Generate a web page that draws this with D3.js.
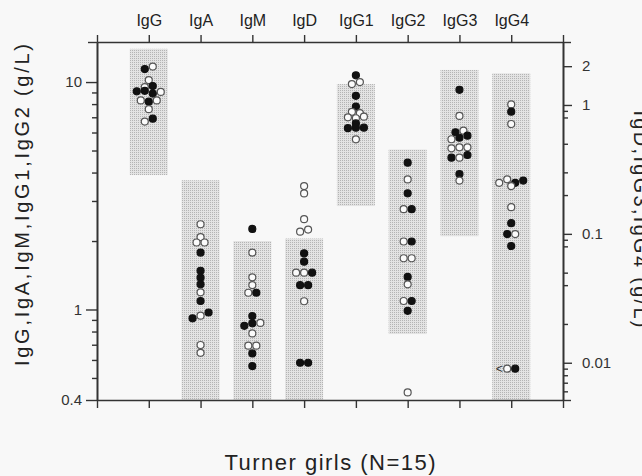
<html>
<head>
<script src="https://cdn.jsdelivr.net/npm/d3@7"></script>
<style>
  body { margin: 0; background: #f8f8f8; }
  text { font-family: "Liberation Sans", Arial, sans-serif; }
</style>
</head>
<body>
<script>
var categories = ["IgG", "IgA", "IgM", "IgD", "IgG1", "IgG2", "IgG3", "IgG4"];
// which y axis each class is read on
var scaleSide = ["L", "L", "L", "R", "L", "L", "R", "R"];
// shaded reference ranges (null = runs off the bottom of the axis)
var refLow = [3.9, null, null, null, 2.85, 0.78, 0.096, null];
var refHigh = [14, 3.7, 2.0, 0.092, 9.8, 5.05, 1.87, 1.76];

// [value g/L, filled (1) / open (0), below detection limit]
var igG = [[11.4, 1], [11.7, 0], [10.2, 0], [9.5, 0], [9.6, 1], [9.1, 1], [9.15, 1], [8.9, 1], [9.05, 0],
           [8.3, 0], [8.2, 1], [8.3, 0], [7.6, 0], [6.7, 0], [6.9, 1]];
var igA = [[2.37, 0], [2.08, 0], [1.97, 0], [1.97, 0], [1.78, 1], [1.48, 1], [1.38, 1], [1.29, 1], [1.19, 0],
           [1.09, 1], [0.914, 1], [0.939, 0], [0.97, 1], [0.698, 0], [0.645, 0]];
var igM = [[2.26, 1], [1.78, 0], [1.385, 0], [1.28, 0], [1.185, 0], [1.185, 1], [0.936, 1], [0.848, 1], [0.869, 1],
           [0.873, 0], [0.785, 0], [0.693, 0], [0.693, 0], [0.641, 1], [0.564, 1]];
var igD = [[0.235, 0], [0.206, 0], [0.130, 0], [0.104, 0], [0.108, 0], [0.0706, 1], [0.0608, 1], [0.050, 0], [0.050, 0],
           [0.050, 1], [0.040, 1], [0.040, 1], [0.030, 0], [0.010, 1], [0.010, 1]];
var igG1 = [[10.7, 1], [9.8, 0], [10.0, 0], [8.7, 1], [7.8, 1], [7.4, 0], [7.3, 0], [7.0, 0], [6.93, 0], [7.04, 0],
            [6.58, 1], [6.27, 1], [6.3, 1], [6.3, 1], [5.6, 0]];
var igG2 = [[4.42, 1], [3.73, 0], [3.24, 1], [2.76, 0], [2.76, 1], [1.99, 0], [1.99, 1], [1.68, 0], [1.68, 0],
            [1.39, 1], [1.29, 0], [1.09, 0], [1.09, 1], [0.987, 1], [0.432, 0]];
var igG3 = [[1.31, 1], [0.822, 0], [0.614, 1], [0.632, 0], [0.542, 0], [0.557, 1], [0.578, 1], [0.461, 0], [0.469, 0],
            [0.469, 0], [0.39, 1], [0.39, 0], [0.409, 1], [0.291, 1], [0.259, 0]];
var igG4 = [[1.01, 0], [0.887, 1], [0.712, 0], [0.249, 0], [0.265, 0], [0.249, 1], [0.259, 1], [0.235, 0], [0.161, 0],
            [0.121, 1], [0.0997, 1], [0.0997, 0], [0.0805, 1], [0.009, 0, 1], [0.009, 1]];
var points = [igG, igA, igM, igD, igG1, igG2, igG3, igG4];

var leftMajor = [0.4, 1, 10];
var leftMinor = [0.5, 0.6, 0.7, 0.8, 0.9, 2, 3, 4, 5, 6, 7, 8, 9];
var rightMajor = [0.01, 0.1, 1, 2];
var rightMinor = [0.006, 0.007, 0.008, 0.009, 0.02, 0.04, 0.05, 0.08, 0.09, 0.2, 0.3, 0.5, 0.8, 0.9];

var width = 642, height = 476;
var plotL = 97, plotR = 563, plotT = 42, plotB = 400;

var svg = d3.select('body').append('svg')
    .attr('width', width)
    .attr('height', height);

svg.append('rect').attr('width', width).attr('height', height).attr('fill', '#f8f8f8');

var pat = svg.append('defs').append('pattern')
    .attr('id', 'stip')
    .attr('width', 2).attr('height', 2)
    .attr('patternUnits', 'userSpaceOnUse');
pat.append('rect').attr('width', 2).attr('height', 2).attr('fill', '#e3e3e3');
pat.append('rect').attr('width', 1).attr('height', 1).attr('fill', '#b4b4b4');

var x = d3.scaleLinear().domain([0, 9]).range([plotL, plotR]);
var yL = d3.scaleLog().domain([15, 0.4]).range([plotT, plotB]);
var yR = d3.scaleLog().domain([3.08, 0.00514]).range([plotT, plotB]);

function yFor(i) { return scaleSide[i] == "L" ? yL : yR; }

// reference range boxes
svg.append('g').selectAll('rect')
    .data(categories)
    .enter()
    .append('rect')
    .attr('x', function (d, i) { return x(i + 1) - 19; })
    .attr('width', 38)
    .attr('y', function (d, i) { return yFor(i)(refHigh[i]); })
    .attr('height', function (d, i) {
        var y = yFor(i);
        var lo = refLow[i] == null ? plotB : y(refLow[i]);
        return lo - y(refHigh[i]);
    })
    .attr('fill', 'url(#stip)');

// put points with nearly the same value side by side
function layout(list, y, cx) {
    var rows = [], cur = null, prevY = null;
    list.forEach(function (d) {
        var p = { v: d[0], f: d[1], lt: d[2], y: y(d[0]) };
        if (cur && Math.abs(p.y - prevY) < 3.5) cur.push(p);
        else { cur = [p]; rows.push(cur); }
        prevY = p.y;
    });
    var out = [];
    rows.forEach(function (row) {
        row.forEach(function (p, k) {
            p.x = cx + (k - (row.length - 1) / 2) * 8;
            out.push(p);
        });
    });
    return out;
}

var all = [];
points.forEach(function (list, i) {
    all = all.concat(layout(list, yFor(i), x(i + 1)));
});

var dots = svg.append('g');
dots.selectAll('circle')
    .data(all)
    .enter()
    .append('circle')
    .attr('cx', function (d) { return d.x; })
    .attr('cy', function (d) { return d.y; })
    .attr('r', 3.5)
    .attr('fill', function (d) { return d.f ? '#111' : '#fbfbfb'; })
    .attr('stroke', function (d) { return d.f ? '#111' : '#555'; })
    .attr('stroke-width', 1.2);

dots.selectAll('text')
    .data(all.filter(function (d) { return d.lt; }))
    .enter()
    .append('text')
    .attr('x', function (d) { return d.x - 4.5; })
    .attr('y', function (d) { return d.y + 4; })
    .attr('text-anchor', 'end')
    .attr('font-size', 12)
    .attr('fill', '#333')
    .text('<');

// axes
function style(g) {
    g.attr('color', '#333');
    g.selectAll('path, line').attr('stroke-width', 1.4);
    g.selectAll('text').attr('fill', '#333');
}

svg.append('g')
    .attr('transform', 'translate(0,' + plotT + ')')
    .call(d3.axisTop(x).tickValues(d3.range(10)).tickSize(7).tickSizeOuter(0).tickPadding(9)
        .tickFormat(function (i) { return categories[i - 1] || ''; }))
    .call(style)
    .selectAll('text').attr('font-size', 16).attr('fill', '#222');

svg.append('g')
    .attr('transform', 'translate(0,' + plotB + ')')
    .call(d3.axisBottom(x).tickValues(d3.range(10)).tickSize(8).tickSizeOuter(0).tickFormat(''))
    .call(style);

svg.append('g')
    .attr('transform', 'translate(' + plotL + ',0)')
    .call(d3.axisLeft(yL).tickValues(leftMajor).tickSize(11).tickSizeOuter(0).tickPadding(4)
        .tickFormat(function (d) { return d; }))
    .call(style)
    .selectAll('text').attr('font-size', 15);

svg.append('g')
    .attr('transform', 'translate(' + plotL + ',0)')
    .call(d3.axisLeft(yL).tickValues(leftMinor).tickSize(5).tickSizeOuter(0).tickFormat(''))
    .call(style);

svg.append('g')
    .attr('transform', 'translate(' + plotL + ',0)')
    .call(d3.axisLeft(yL).tickValues([15]).tickSize(9).tickSizeOuter(0).tickFormat(''))
    .call(style);

svg.append('g')
    .attr('transform', 'translate(' + plotR + ',0)')
    .call(d3.axisRight(yR).tickValues(rightMajor).tickSize(9).tickSizeOuter(0).tickPadding(10)
        .tickFormat(function (d) { return d; }))
    .call(style)
    .selectAll('text').attr('font-size', 15);

svg.append('g')
    .attr('transform', 'translate(' + plotR + ',0)')
    .call(d3.axisRight(yR).tickValues(rightMinor).tickSize(5).tickSizeOuter(0).tickFormat(''))
    .call(style);

svg.append('g')
    .attr('transform', 'translate(' + plotR + ',0)')
    .call(d3.axisRight(yR).tickValues(yR.domain()).tickSize(8).tickSizeOuter(0).tickFormat(''))
    .call(style);

// titles
svg.append('text')
    .attr('transform', 'translate(29,205) rotate(-90)')
    .attr('text-anchor', 'middle')
    .attr('font-size', 20)
    .attr('fill', '#222')
    .attr('textLength', 322)
    .attr('lengthAdjust', 'spacing')
    .text('IgG,IgA,IgM,IgG1,IgG2  (g/L)');

svg.append('text')
    .attr('transform', 'translate(634,219) rotate(90)')
    .attr('text-anchor', 'middle')
    .attr('font-size', 20)
    .attr('fill', '#222')
    .attr('textLength', 217)
    .attr('lengthAdjust', 'spacing')
    .text('IgD,IgG3,IgG4  (g/L)');

svg.append('text')
    .attr('x', 330)
    .attr('y', 470)
    .attr('text-anchor', 'middle')
    .attr('font-size', 22)
    .attr('fill', '#222')
    .attr('textLength', 211)
    .attr('lengthAdjust', 'spacing')
    .text('Turner  girls  (N=15)');
</script>
</body>
</html>
